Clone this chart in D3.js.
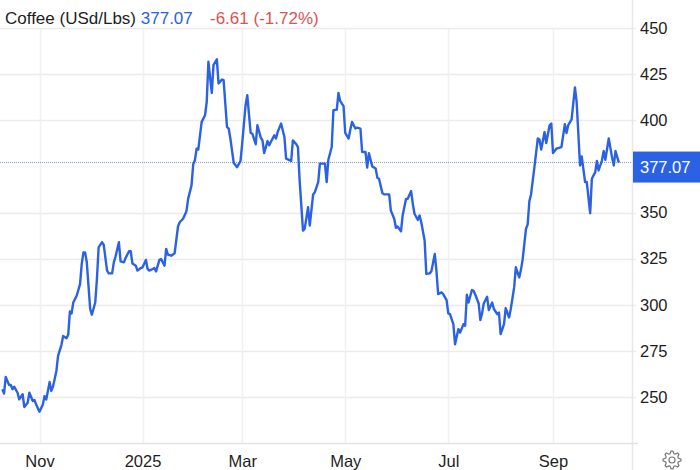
<!DOCTYPE html>
<html>
<head>
<meta charset="utf-8">
<script src="https://cdn.jsdelivr.net/npm/d3@7"></script>
<style>
  body { margin: 0; background: #fff; }
  svg { display: block; font-family: "Liberation Sans", Arial, sans-serif; }
</style>
</head>
<body>
<div id="chart"></div>
<script>
var width = 700,
  height = 470,
  plotRight = 632,
  plotBottom = 443;

// daily close, USd/Lbs
var dates = [
  "2024-10-10","2024-10-11","2024-10-12","2024-10-14","2024-10-15","2024-10-16","2024-10-17","2024-10-19","2024-10-20","2024-10-22","2024-10-23","2024-10-25","2024-10-26","2024-10-28","2024-10-29","2024-10-30",
  "2024-11-01","2024-11-03","2024-11-04","2024-11-05","2024-11-07","2024-11-08","2024-11-09","2024-11-11","2024-11-12","2024-11-14","2024-11-15","2024-11-17","2024-11-18","2024-11-19","2024-11-20","2024-11-21","2024-11-23","2024-11-25","2024-11-26","2024-11-27","2024-11-28","2024-11-29",
  "2024-12-01","2024-12-02","2024-12-04","2024-12-05","2024-12-06","2024-12-08","2024-12-09","2024-12-11","2024-12-12","2024-12-14","2024-12-15","2024-12-16","2024-12-18","2024-12-19","2024-12-21","2024-12-22","2024-12-24","2024-12-25","2024-12-26","2024-12-28","2024-12-29","2024-12-31",
  "2025-01-01","2025-01-03","2025-01-04","2025-01-05","2025-01-07","2025-01-08","2025-01-09","2025-01-11","2025-01-12","2025-01-14","2025-01-15","2025-01-16","2025-01-18","2025-01-20","2025-01-22","2025-01-23","2025-01-25","2025-01-27","2025-01-28","2025-01-30","2025-01-31",
  "2025-02-01","2025-02-02","2025-02-03","2025-02-05","2025-02-07","2025-02-08","2025-02-09","2025-02-11","2025-02-12","2025-02-14","2025-02-15","2025-02-17","2025-02-18","2025-02-20","2025-02-21","2025-02-22","2025-02-24","2025-02-26","2025-02-28",
  "2025-03-01","2025-03-03","2025-03-04","2025-03-06","2025-03-07","2025-03-09","2025-03-10","2025-03-12","2025-03-13","2025-03-14","2025-03-16","2025-03-17","2025-03-19","2025-03-20","2025-03-21","2025-03-22","2025-03-24","2025-03-26","2025-03-27","2025-03-28","2025-03-30","2025-03-31",
  "2025-04-02","2025-04-03","2025-04-04","2025-04-06","2025-04-07","2025-04-09","2025-04-10","2025-04-12","2025-04-13","2025-04-15","2025-04-16","2025-04-17","2025-04-19","2025-04-20","2025-04-21","2025-04-23","2025-04-24","2025-04-26","2025-04-27","2025-04-28","2025-04-30",
  "2025-05-01","2025-05-03","2025-05-04","2025-05-05","2025-05-07","2025-05-08","2025-05-10","2025-05-11","2025-05-13","2025-05-14","2025-05-15","2025-05-17","2025-05-19","2025-05-20","2025-05-21","2025-05-23","2025-05-24","2025-05-27","2025-05-28","2025-05-30","2025-05-31",
  "2025-06-01","2025-06-03","2025-06-04","2025-06-06","2025-06-07","2025-06-09","2025-06-10","2025-06-11","2025-06-13","2025-06-14","2025-06-15","2025-06-17","2025-06-18","2025-06-20","2025-06-21","2025-06-23","2025-06-24","2025-06-25","2025-06-27","2025-06-28","2025-06-30",
  "2025-07-01","2025-07-02","2025-07-04","2025-07-05","2025-07-07","2025-07-08","2025-07-10","2025-07-11","2025-07-12","2025-07-13","2025-07-15","2025-07-16","2025-07-17","2025-07-19","2025-07-20","2025-07-21","2025-07-22","2025-07-24","2025-07-25","2025-07-27","2025-07-28","2025-07-30","2025-07-31",
  "2025-08-01","2025-08-03","2025-08-04","2025-08-06","2025-08-07","2025-08-09","2025-08-10","2025-08-12","2025-08-13","2025-08-14","2025-08-16","2025-08-17","2025-08-18","2025-08-19","2025-08-21","2025-08-23","2025-08-24","2025-08-25","2025-08-27","2025-08-28","2025-08-30","2025-08-31",
  "2025-09-01","2025-09-03","2025-09-05","2025-09-06","2025-09-08","2025-09-09","2025-09-10","2025-09-12","2025-09-13","2025-09-14","2025-09-15","2025-09-17","2025-09-18","2025-09-20","2025-09-21","2025-09-23","2025-09-24","2025-09-26","2025-09-27","2025-09-28","2025-09-30",
  "2025-10-01","2025-10-02","2025-10-04","2025-10-06","2025-10-07","2025-10-08","2025-10-10"
];

var prices = [
  254.2,251.8,260.9,256.5,256.5,254.2,255.6,252.3,248.7,251.5,244.6,246.9,252.3,247.8,248.4,246,
  242,246,250.5,248.7,258.1,253.3,255.6,264.1,272.3,278.3,283.1,281.9,283.7,296.4,295.3,301.2,304.9,311.2,322.1,328.4,328.3,323,
  297.7,294.6,301.2,314,331.1,333.9,332.6,318.5,317,317,323,326.1,333.9,323.5,323,325.4,329,329,322.4,321.2,318.5,319.9,
  320.3,324.3,319.4,318.5,319.4,319.9,318.1,324.3,324.8,321.2,330.3,327.2,326.6,327.9,342.4,344.7,346.6,350.7,357.4,364.7,376.1,
  378.3,384.6,384.1,399.1,402.7,409.9,431.7,414.8,429.9,433,419.9,422.1,421.7,396.4,395.5,390.1,376.8,374.6,377.9,
  387.3,408.2,413.6,393.1,392.8,387,397.3,390.6,389.1,382.2,388.7,386.4,390.1,391.8,390.1,393.6,398.2,390.9,379.2,378.8,377.9,389.1,
  387,385.5,367.4,340.2,341.1,352.9,342.9,359.8,361,366.5,376.5,376.5,376.5,366.5,378.6,385.5,405.4,405.8,414.8,410.5,407.6,
  393.1,390.1,394.9,399.1,395.5,396,395.5,382.8,382.8,374.3,382.2,375,373.9,368.9,368.3,360.5,359.8,359.8,351.1,346.6,341.7,
  342.4,339.8,348.4,357.4,357.4,361.6,354.7,349.3,346,348.4,344.7,334.8,316.7,317,318.1,327.5,318.5,305.8,306.7,305.8,302.5,
  295.3,294.9,289.5,278.6,286.8,284.9,289.5,288.6,305.4,301.2,308,307.6,305.4,300.7,291.7,295.3,300.7,304.3,297.1,301.2,297.7,294.9,295.8,
  284.1,289.5,298.2,293.1,297.7,309.4,320.3,314.8,318.9,324.3,341.1,343.5,356.1,359.8,374.6,390.1,389.5,384.1,393.6,387.7,397.3,398.2,
  382.2,384.6,385.2,385.5,397.8,393.1,397.3,400.4,409.1,417.8,409.9,375.5,380.4,366.5,366.5,349.6,368.3,371.9,377.9,372.8,378.3,
  383.3,378.6,390.1,379.7,375.5,383.3,377.07
];

var yTicks = [250, 275, 300, 325, 350, 400, 425, 450];
var xTickDates = ["2024-11-01", "2025-01-01", "2025-03-01", "2025-05-01", "2025-07-01", "2025-09-01"];
var xTickLabels = ["Nov", "2025", "Mar", "May", "Jul", "Sep"];

var lastPrice = 377.07,
  change = -6.61,
  changePct = -1.72;

var parse = d3.timeParse("%Y-%m-%d");
var data = dates.map(function(d, i) { return { date: parse(d), value: prices[i] }; });

var blue = "#2a62e3",
  red = "#d9534f",
  grid = "#ebebeb";

var x = d3.scaleTime()
  .domain([parse("2024-11-01"), parse("2025-09-01")])
  .range([39.5, 553]);

var y = d3.scaleLinear()
  .domain([250, 450])
  .range([397, 28]);

var svg = d3.select("#chart").append("svg")
  .attr("width", width)
  .attr("height", height);

// horizontal gridlines
svg.append("g").selectAll("line")
  .data(yTicks)
  .enter().append("line")
  .attr("x1", 0)
  .attr("x2", plotRight + 4)
  .attr("y1", function(d) { return Math.round(y(d)) + 0.5; })
  .attr("y2", function(d) { return Math.round(y(d)) + 0.5; })
  .style("stroke", grid)
  .style("stroke-width", 1.5);

// vertical gridlines
svg.append("g").selectAll("line")
  .data(xTickDates)
  .enter().append("line")
  .attr("x1", function(d) { return Math.round(x(parse(d))) + 0.5; })
  .attr("x2", function(d) { return Math.round(x(parse(d))) + 0.5; })
  .attr("y1", 28)
  .attr("y2", plotBottom)
  .style("stroke", "#f0f0f0")
  .style("stroke-width", 1.5);

// right border
svg.append("line")
  .attr("x1", plotRight + 0.5).attr("x2", plotRight + 0.5)
  .attr("y1", 0).attr("y2", height)
  .style("stroke", "#e8e8e8")
  .style("stroke-width", 1.5);

// bottom border
svg.append("line")
  .attr("x1", 0).attr("x2", plotRight + 6)
  .attr("y1", plotBottom + 0.5).attr("y2", plotBottom + 0.5)
  .style("stroke", "#e2e2e2")
  .style("stroke-width", 1.5);

// last price dotted line
svg.append("line")
  .attr("x1", 0).attr("x2", plotRight)
  .attr("y1", y(lastPrice)).attr("y2", y(lastPrice))
  .style("stroke", "#8a9bbd")
  .style("stroke-width", 1)
  .style("stroke-dasharray", "1,1");

var line = d3.line()
  .x(function(d) { return x(d.date); })
  .y(function(d) { return y(d.value); });

svg.append("path")
  .datum(data)
  .attr("d", line)
  .style("fill", "none")
  .style("stroke", blue)
  .style("stroke-width", 2.4)
  .style("stroke-linejoin", "round");

// y axis labels
var yAxis = svg.append("g")
  .attr("transform", "translate(" + plotRight + ",0)")
  .call(d3.axisRight(y).tickValues(yTicks).tickSize(0).tickPadding(8));
yAxis.select(".domain").remove();
yAxis.selectAll("text")
  .style("font-size", "16.5px")
  .style("fill", "#1e1e1e")
  .style("font-family", "Liberation Sans, Arial, sans-serif");

// x axis labels
var xAxis = svg.append("g")
  .attr("transform", "translate(0," + plotBottom + ")")
  .call(d3.axisBottom(x)
    .tickValues(xTickDates.map(parse))
    .tickFormat(function(d, i) { return xTickLabels[i]; })
    .tickSize(0).tickPadding(12));
xAxis.select(".domain").remove();
xAxis.selectAll("text")
  .style("font-size", "16.5px")
  .style("fill", "#1e1e1e")
  .style("font-family", "Liberation Sans, Arial, sans-serif");

// last price tag
svg.append("rect")
  .attr("x", plotRight + 1)
  .attr("y", y(lastPrice) - 11)
  .attr("width", width - plotRight)
  .attr("height", 31)
  .style("fill", blue);

svg.append("text")
  .attr("x", plotRight + 8)
  .attr("y", y(lastPrice) + 10)
  .style("font-size", "16.5px")
  .style("fill", "#fff")
  .text(lastPrice.toFixed(2));

// title
var title = svg.append("text")
  .attr("x", 5)
  .attr("y", 24)
  .style("font-size", "17px");
title.append("tspan").style("fill", "#1e1e1e").text("Coffee (USd/Lbs) ");
title.append("tspan").style("fill", blue).text(lastPrice.toFixed(2));
svg.append("text")
  .attr("x", 210)
  .attr("y", 24)
  .style("font-size", "17px")
  .style("fill", red)
  .text(change.toFixed(2) + " (" + changePct.toFixed(2) + "%)");

// settings gear
var gear = [];
var teeth = 8;
for (var k = 0; k < teeth * 4; k++) {
  var a = (k / (teeth * 4)) * 2 * Math.PI;
  var rr = (k % 4 === 0 || k % 4 === 1) ? 9 : 6.6;
  gear.push([672 + rr * Math.cos(a - 0.1), 460 + rr * Math.sin(a - 0.1)]);
}
svg.append("path")
  .attr("d", d3.line().curve(d3.curveLinearClosed)(gear))
  .style("fill", "none")
  .style("stroke", "#777")
  .style("stroke-width", 1.2);
svg.append("circle")
  .attr("cx", 672).attr("cy", 460).attr("r", 3)
  .style("fill", "none")
  .style("stroke", "#777")
  .style("stroke-width", 1.2);
</script>
</body>
</html>
